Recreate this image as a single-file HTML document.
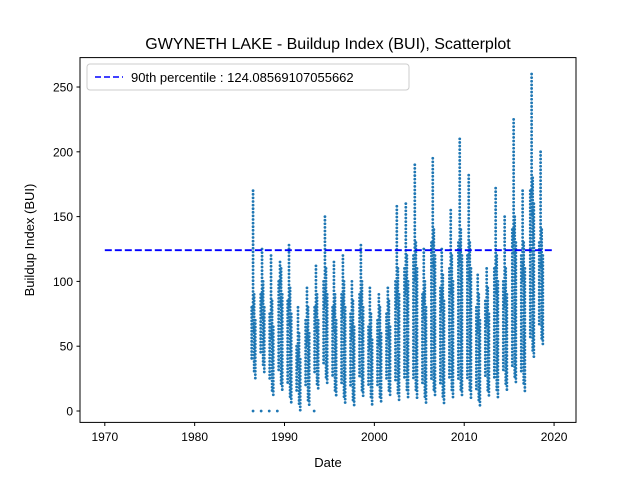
<!DOCTYPE html>
<html><head><meta charset="utf-8"><style>
body{margin:0;background:#fff;}
svg{display:block;font-family:"Liberation Sans","DejaVu Sans",sans-serif;}
</style></head><body>
<svg id="chart" width="640" height="480" viewBox="0 0 640 480">
<rect x="0" y="0" width="640" height="480" fill="#fff"/>
<text x="328" y="49" font-size="16" text-anchor="middle">GWYNETH LAKE - Buildup Index (BUI), Scatterplot</text>
<g id="marks"></g>
<g id="axes"></g>
<rect x="80" y="57.6" width="496" height="364.8" fill="none" stroke="#000" stroke-width="1"/>
<text x="328" y="467" font-size="13" text-anchor="middle">Date</text>
<text x="34" y="240" font-size="13" text-anchor="middle" transform="rotate(-90 34 240)">Buildup Index (BUI)</text>
<g>
<rect x="87" y="64" width="322" height="26" rx="3" fill="#fff" stroke="#ccc"/>
<line x1="95" y1="77" x2="123" y2="77" stroke="#0000ff" stroke-width="1.6" stroke-dasharray="6,3"/>
<text x="131" y="82" font-size="13">90th percentile : 124.08569107055662</text>
</g>
</svg>
<script>
const years=[1986,1987,1988,1989,1990,1991,1992,1993,1994,1995,1996,1997,1998,1999,2000,2001,2002,2003,2004,2005,2006,2007,2008,2009,2010,2011,2012,2013,2014,2015,2016,2017,2018];
const peaks=[170,125,120,115,128,80,95,112,150,115,120,100,128,95,90,95,158,160,190,125,195,125,155,210,182,105,110,172,150,225,170,260,200];
const mids=[80,90,75,100,85,50,70,80,100,80,90,75,90,65,70,75,100,110,120,90,130,95,110,130,120,80,85,110,100,140,120,170,130];
const lows=[25,30,10,15,5,0,3,15,20,10,5,3,10,5,5,10,8,10,10,5,10,5,10,10,10,2,10,10,15,20,15,40,50];
const outlierDates=[1986.5,1987.4,1988.3,1989.2,1993.3];
const outlierValues=[0,0,0,0,0];
const xTicks=[1970,1980,1990,2000,2010,2020];
const yTicks=[0,50,100,150,200,250];
const X=d=>80+(d-1967.24)*(496/55.2);
const Y=v=>422.4-(v+8.8)*(364.8/281.5);
const NS="http://www.w3.org/2000/svg";
const marks=document.getElementById('marks');
const axes=document.getElementById('axes');
function dot(x,y){const c=document.createElementNS(NS,'circle');c.setAttribute('cx',x);c.setAttribute('cy',y);c.setAttribute('r',1.4);c.setAttribute('fill','#1f77b4');


marks.appendChild(c);}
function streak(d,a,b,s){const x=X(d),y1=Y(a),y2=Y(b);for(let y=Math.min(y1,y2);y<=Math.max(y1,y2);y+=s)dot(x,y);}
years.forEach((yr,i)=>{
  streak(yr+0.35,lows[i]+15,mids[i],3.4);
  streak(yr+0.5,mids[i]-20,peaks[i],3.6);
  streak(yr+0.62,lows[i]+5,mids[i]+10,3.2);
  streak(yr+0.75,lows[i],mids[i]-10,3.4);
});
outlierDates.forEach((d,i)=>dot(X(d),Y(outlierValues[i])));
const pl=document.createElementNS(NS,'line');
pl.setAttribute('x1',X(1970));pl.setAttribute('x2',X(2019.8));
pl.setAttribute('y1',Y(124.0857));pl.setAttribute('y2',Y(124.0857));
pl.setAttribute('stroke','#0000ff');pl.setAttribute('stroke-width','1.8');pl.setAttribute('stroke-dasharray','7,3');


marks.appendChild(pl);
xTicks.forEach(t=>{const x=X(t);
 const l=document.createElementNS(NS,'line');l.setAttribute('x1',x);l.setAttribute('x2',x);l.setAttribute('y1',422.4);l.setAttribute('y2',426);l.setAttribute('stroke','#000');
 
 
 axes.appendChild(l);
 const tx=document.createElementNS(NS,'text');tx.setAttribute('x',x);tx.setAttribute('y',441);tx.setAttribute('font-size','12');tx.setAttribute('text-anchor','middle');tx.textContent=t;
 
 
 axes.appendChild(tx);});
yTicks.forEach(t=>{const y=Y(t);
 const l=document.createElementNS(NS,'line');l.setAttribute('x1',76.5);l.setAttribute('x2',80);l.setAttribute('y1',y);l.setAttribute('y2',y);l.setAttribute('stroke','#000');
 
 
 axes.appendChild(l);
 const tx=document.createElementNS(NS,'text');tx.setAttribute('x',73);tx.setAttribute('y',y+4.5);tx.setAttribute('font-size','12');tx.setAttribute('text-anchor','end');tx.textContent=t;
 
 
 axes.appendChild(tx);});
</script>
</body></html>
